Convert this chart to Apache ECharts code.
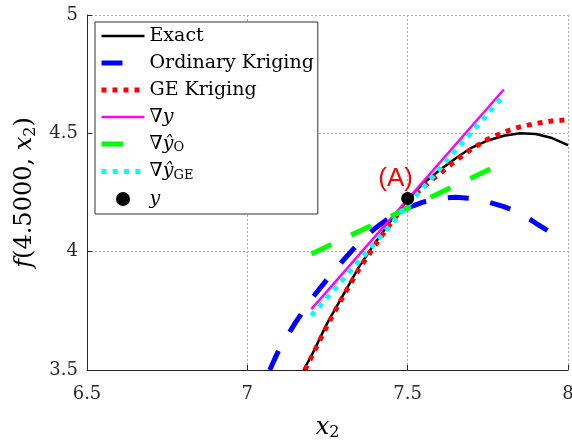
<!DOCTYPE html>
<html>
<head>
<meta charset="utf-8">
<script src="https://cdn.jsdelivr.net/npm/echarts@6/dist/echarts.min.js"></script>
<style>
  html, body { margin: 0; background: #fff; }
  #chart { width: 572px; height: 440px; }
</style>
</head>
<body>
<div id="chart"></div>
<script>
// curve samples
const exactX = [7.175, 7.2, 7.25, 7.3, 7.35, 7.4, 7.45, 7.5, 7.55, 7.6, 7.65, 7.7, 7.75, 7.8, 7.85, 7.9, 7.95, 8.0]
const exactY = [3.5, 3.56, 3.70, 3.82, 3.94, 4.04, 4.135, 4.22, 4.29, 4.345, 4.395, 4.44, 4.47, 4.49, 4.50, 4.497, 4.48, 4.45]

const okX = [7.07, 7.1, 7.15, 7.2, 7.25, 7.3, 7.35, 7.4, 7.45, 7.5, 7.55, 7.6, 7.65, 7.7, 7.75, 7.8, 7.85, 7.9, 7.96]
const okY = [3.5, 3.59, 3.70, 3.80, 3.885, 3.965, 4.04, 4.10, 4.15, 4.185, 4.21, 4.225, 4.23, 4.225, 4.21, 4.19, 4.165, 4.12, 4.07]

const geX = [7.18, 7.2, 7.25, 7.3, 7.35, 7.4, 7.45, 7.5, 7.55, 7.6, 7.65, 7.7, 7.75, 7.8, 7.85, 7.9, 7.95, 8.0]
const geY = [3.5, 3.555, 3.69, 3.815, 3.93, 4.03, 4.125, 4.21, 4.275, 4.33, 4.385, 4.435, 4.475, 4.505, 4.527, 4.542, 4.552, 4.557]

// tangent segments at x2 = 7.5
const gradX = [7.2, 7.8]
const gradY = [3.757, 4.685]
const gradOY = [3.99, 4.377]
const gradGEY = [3.73, 4.66]

const sampleX = [7.5]
const sampleY = [4.225]

const xTicks = [6.5, 8, 0.5]   // min, max, step
const yTicks = [3.5, 5, 0.5]

const names = ['Exact', 'Ordinary Kriging', 'GE Kriging', '∇y', '∇ŷO', '∇ŷGE', 'y']
const legendText = {
  'Exact': 'Exact',
  'Ordinary Kriging': 'Ordinary Kriging',
  'GE Kriging': 'GE Kriging',
  '∇y': '∇{i|y}',
  '∇ŷO': '∇{i|ŷ}{s|O}',
  '∇ŷGE': '∇{i|ŷ}{s|GE}',
  'y': '{i|y}'
}

const pairs = (xs, ys) => xs.map((x, i) => [x, ys[i]])

const serif = 'DejaVu Serif'
const richMath = {
  i: { fontFamily: serif, fontStyle: 'italic', fontSize: 19, color: '#000' },
  s: { fontFamily: serif, fontSize: 13, color: '#000', padding: [8, 0, 0, 0] }
}
const richName = {
  i: { fontFamily: serif, fontStyle: 'italic', fontSize: 24, color: '#000' },
  s: { fontFamily: serif, fontSize: 16, color: '#000', padding: [11, 0, 0, 0] }
}

const chart = echarts.init(document.getElementById('chart'))

function lineSeries(name, data, color, width, dash) {
  return {
    name: name,
    type: 'line',
    data: data,
    symbol: 'none',
    showSymbol: false,
    animation: false,
    lineStyle: { color: color, width: width, type: dash, cap: 'butt' },
    itemStyle: { color: color },
    emphasis: { disabled: true }
  }
}

chart.setOption({
  animation: false,
  grid: { left: 87, right: 4, top: 15, bottom: 70, outerBoundsMode: 'none', containLabel: false },
  legend: {
    orient: 'vertical',
    left: 95,
    top: 22,
    padding: [4, 4, 5, 4],
    itemWidth: 43,
    itemHeight: 14,
    itemGap: 7,
    backgroundColor: '#fff',
    borderColor: '#333',
    borderWidth: 1,
    lineStyle: { width: 'inherit' },
    // line entries: hide the marker legend adds by default
    data: names.map(n => n === 'y'
      ? { name: n, icon: 'circle', itemStyle: { opacity: 1 } }
      : { name: n, itemStyle: { opacity: 0 } }),
    formatter: n => legendText[n],
    textStyle: { fontFamily: serif, fontSize: 19, color: '#000', lineHeight: 20, rich: richMath }
  },
  xAxis: {
    type: 'value',
    min: xTicks[0],
    max: xTicks[1],
    interval: xTicks[2],
    name: '{i|x}{s|2}',
    nameLocation: 'middle',
    nameGap: 44,
    nameTextStyle: { fontFamily: serif, fontSize: 24, color: '#000', rich: richName },
    axisLine: { lineStyle: { color: '#262626', width: 1 } },
    axisTick: { inside: true, length: 5, lineStyle: { color: '#262626' } },
    axisLabel: { fontFamily: serif, fontSize: 18, color: '#262626', margin: 15 },
    splitLine: { show: true, lineStyle: { color: '#aaa', type: [2, 2], width: 1 } }
  },
  yAxis: {
    type: 'value',
    min: yTicks[0],
    max: yTicks[1],
    interval: yTicks[2],
    name: '{i|f}(4.5000, {i|x}{s|2})',
    nameLocation: 'middle',
    nameRotate: 90,
    nameGap: 26,
    nameTextStyle: { fontFamily: serif, fontSize: 24, color: '#000', rich: richName },
    axisLine: { show: true, lineStyle: { color: '#262626', width: 1 } },
    axisTick: { show: true, inside: true, length: 5, lineStyle: { color: '#262626' } },
    axisLabel: { fontFamily: serif, fontSize: 18, color: '#262626', margin: 9 },
    splitLine: { show: true, lineStyle: { color: '#aaa', type: [2, 2], width: 1 } }
  },
  series: [
    lineSeries('Exact', pairs(exactX, exactY), '#000000', 2.5, 'solid'),
    lineSeries('Ordinary Kriging', pairs(okX, okY), '#0000ff', 5, [21, 22]),
    lineSeries('GE Kriging', pairs(geX, geY), '#ff0000', 5, [5, 6]),
    lineSeries('∇y', pairs(gradX, gradY), '#ff00ff', 2.5, 'solid'),
    lineSeries('∇ŷO', pairs(gradX, gradOY), '#00ff00', 5, [22, 22]),
    lineSeries('∇ŷGE', pairs(gradX, gradGEY), '#00ffff', 5, [5, 6.3]),
    {
      name: 'y',
      type: 'scatter',
      data: pairs(sampleX, sampleY),
      symbol: 'circle',
      symbolSize: 13,
      itemStyle: { color: '#000', opacity: 1 },
      emphasis: { disabled: true },
      label: {
        show: true,
        formatter: '(A)',
        position: 'inside',
        offset: [-12, -20],
        fontFamily: 'Liberation Sans',
        fontSize: 26,
        color: '#ff0000',
        textBorderWidth: 0
      },
      z: 5
    }
  ]
})
</script>
</body>
</html>
